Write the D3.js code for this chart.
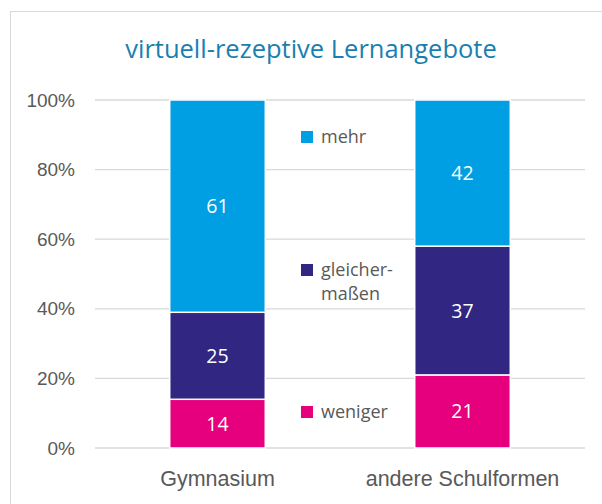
<!DOCTYPE html>
<html>
<head>
<meta charset="utf-8">
<script src="https://cdn.jsdelivr.net/npm/d3@7"></script>
<style>
  body { margin: 0; background: #fff; }
  svg { font-family: "Open Sans", Lato, sans-serif; }
</style>
</head>
<body>
<div id="chart"></div>
<script>
// Daten
const categories = ["Gymnasium", "andere Schulformen"];
const seriesNames = ["weniger", "gleichermaßen", "mehr"];
const weniger = [14, 21];
const gleichermassen = [25, 37];
const mehr = [61, 42];
const yTicks = [0, 20, 40, 60, 80, 100];
const colors = { weniger: "#e6007e", "gleichermaßen": "#312783", mehr: "#009fe3" };

const W = 602, H = 504;
const m = { top: 100, right: 17, bottom: 56, left: 95 };
const innerW = W - m.left - m.right, innerH = H - m.top - m.bottom;

const svg = d3.select("#chart").append("svg").attr("width", W).attr("height", H);

// Rahmen
svg.append("rect").attr("x", 10.5).attr("y", 11.5).attr("width", W).attr("height", H)
  .attr("fill", "none").attr("stroke", "#d9d9d9").attr("stroke-width", 1);

svg.append("text").attr("x", 311).attr("y", 58).attr("text-anchor", "middle")
  .style("font-size", "25.5px").style("fill", "#1a7fb0")
  .text("virtuell-rezeptive Lernangebote");

const g = svg.append("g").attr("transform", `translate(${m.left},${m.top})`);

const x = d3.scaleBand().domain(categories).range([0, innerW]).paddingInner(0.61).paddingOuter(0.305);
const y = d3.scaleLinear().domain([0, 100]).range([innerH, 0]);

// Gitternetz
g.append("g").selectAll("line").data(yTicks).join("line")
  .attr("x1", 0).attr("x2", innerW)
  .attr("y1", d => y(d)).attr("y2", d => y(d))
  .attr("stroke", "#d9d9d9").attr("stroke-width", 1.3);

// Y-Achse
const yAxis = g.append("g")
  .call(d3.axisLeft(y).tickValues(yTicks).tickFormat(d => d + "%").tickSize(0).tickPadding(20));
yAxis.select(".domain").remove();
yAxis.selectAll("text").style("font-size", "19px").style("fill", "#595959").style("font-family", "inherit");

// X-Achse
const xAxis = g.append("g").attr("transform", `translate(0,${innerH})`)
  .call(d3.axisBottom(x).tickSize(0).tickPadding(23));
xAxis.select(".domain").remove();
xAxis.selectAll("text").style("font-size", "21.5px").style("fill", "#595959").style("font-family", "inherit");

// Stapel
const rows = categories.map((c, i) => ({
  cat: c, weniger: weniger[i], "gleichermaßen": gleichermassen[i], mehr: mehr[i]
}));
const stack = d3.stack().keys(seriesNames)(rows);

stack.forEach(layer => {
  const grp = g.append("g");
  grp.selectAll("rect").data(layer).join("rect")
    .attr("x", d => x(d.data.cat))
    .attr("y", d => y(d[1]))
    .attr("width", x.bandwidth())
    .attr("height", d => y(d[0]) - y(d[1]))
    .attr("fill", colors[layer.key])
    .attr("stroke", "#fff").attr("stroke-width", 1.5);
  grp.selectAll("text").data(layer).join("text")
    .attr("x", d => x(d.data.cat) + x.bandwidth() / 2)
    .attr("y", d => y((d[0] + d[1]) / 2))
    .attr("dy", "0.36em")
    .attr("text-anchor", "middle")
    .style("font-size", "19.5px").style("fill", "#fff")
    .text(d => d[1] - d[0]);
});

// Legende
const legend = [
  { key: "mehr", lines: ["mehr"], y: 137 },
  { key: "gleichermaßen", lines: ["gleicher-", "maßen"], y: 270 },
  { key: "weniger", lines: ["weniger"], y: 412 }
];
legend.forEach(l => {
  svg.append("rect").attr("x", 301).attr("y", l.y - 6).attr("width", 12).attr("height", 12)
    .attr("fill", colors[l.key]);
  l.lines.forEach((t, i) => {
    svg.append("text").attr("x", 321).attr("y", l.y + i * 24).attr("dy", "0.36em")
      .style("font-size", "18px").style("fill", "#595959").text(t);
  });
});
</script>
</body>
</html>
